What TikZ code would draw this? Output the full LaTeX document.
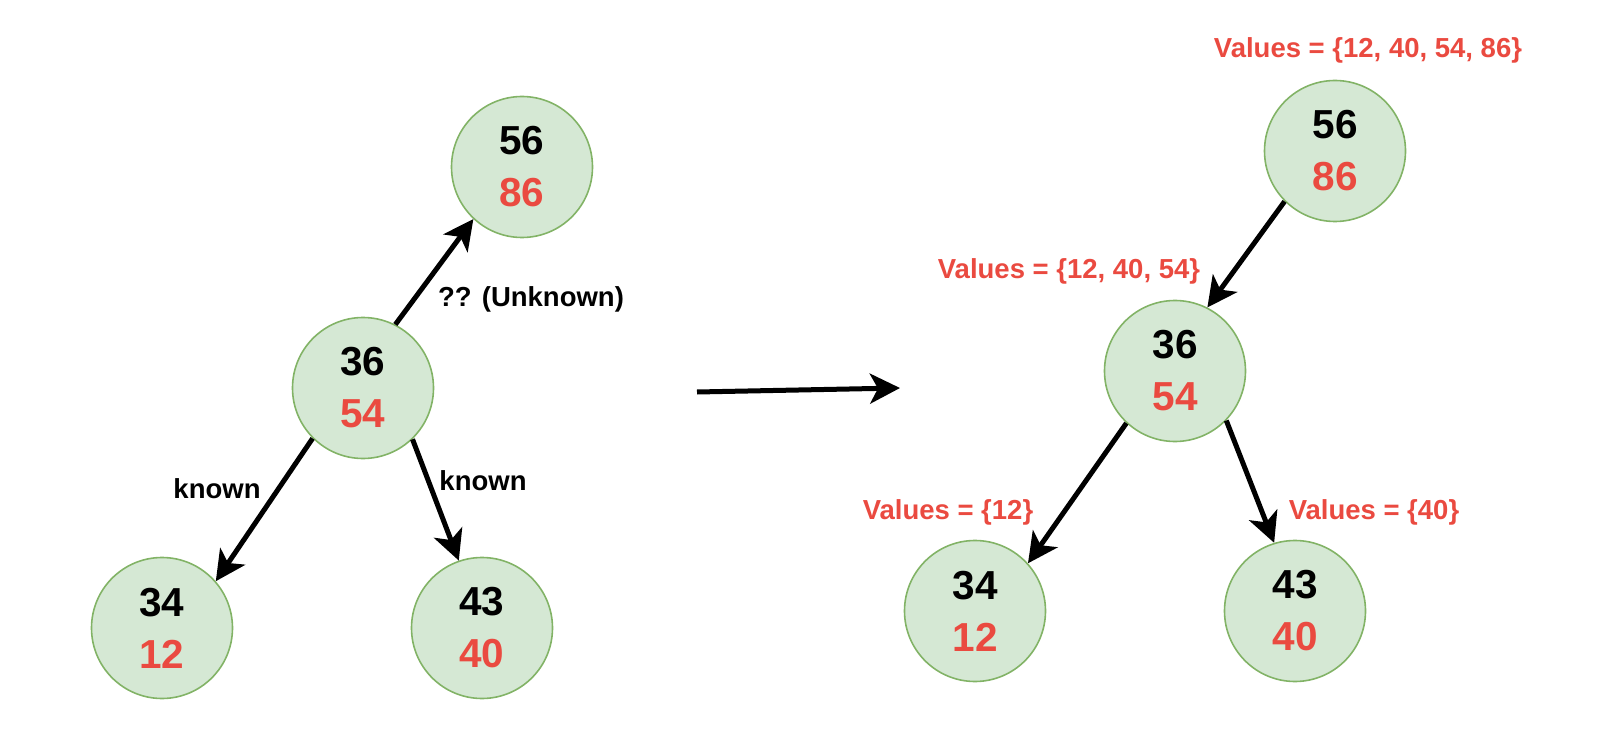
\documentclass[tikz,border=0pt]{standalone}
\usepackage{fontspec}
\setmainfont{Liberation Sans}
\usetikzlibrary{arrows.meta}
\definecolor{nodefill}{HTML}{D5E8D4}
\definecolor{nodeline}{HTML}{82B366}
\definecolor{valred}{RGB}{234,74,64}
\tikzset{
  tnode/.style={circle, draw=nodeline, fill=nodefill, line width=1.6pt, minimum size=141pt, inner sep=0pt, align=center, font=\fontsize{40.5}{52}\selectfont\bfseries},
  edge/.style={line width=5pt, -{Stealth[length=30pt, width=30pt, inset=8pt]}},
  elabel/.style={font=\fontsize{27.5}{30}\selectfont\bfseries, inner sep=0pt, anchor=base},
  vlabel/.style={font=\fontsize{27.5}{30}\selectfont\bfseries, text=valred, inner sep=0pt, anchor=base}
}
\newcommand{\tv}[2]{#1\\\textcolor{valred}{#2}}
\begin{document}
\begin{tikzpicture}[x=1pt, y=-1pt]
\useasboundingbox (0,0) rectangle (1610,738);
% left tree
\node[tnode] (L56) at (522,167) {\tv{56}{86}};
\node[tnode] (L36) at (363,388) {\tv{36}{54}};
\node[tnode] (L34) at (162,628) {\tv{34}{12}};
\node[tnode] (L43) at (482,628) {\tv{43}{40}};
\draw[edge] (L36.63) -- (L56.227);
\draw[edge] (L36.225) -- (L34.41);
\draw[edge] (L36.314) -- (L43.109);
\node[elabel] (lu) at (531,306) {?? (Unknown)};
\node[elabel] (lk1) at (217,498) {known};
\node[elabel] (lk2) at (483,490) {known};
% middle arrow
\coordinate (ms) at (697,392);
\coordinate (me) at (900,388);
\draw[edge] (ms) -- (me);
% right tree
\node[tnode] (R56) at (1335,151) {\tv{56}{86}};
\node[tnode] (R36) at (1175,371) {\tv{36}{54}};
\node[tnode] (R34) at (975,611) {\tv{34}{12}};
\node[tnode] (R43) at (1295,611) {\tv{43}{40}};
\draw[edge] (R56.225) -- (R36.63);
\draw[edge] (R36.227) -- (R34.42);
\draw[edge] (R36.316) -- (R43.107);
\node[vlabel] (v1) at (1368,58) {Values = \{12, 40, 54, 86\}};
\node[vlabel] (v2) at (1069,279) {Values = \{12, 40, 54\}};
\node[vlabel] (v3) at (948,519) {Values = \{12\}};
\node[vlabel] (v4) at (1374,519) {Values = \{40\}};
\end{tikzpicture}
\end{document}
